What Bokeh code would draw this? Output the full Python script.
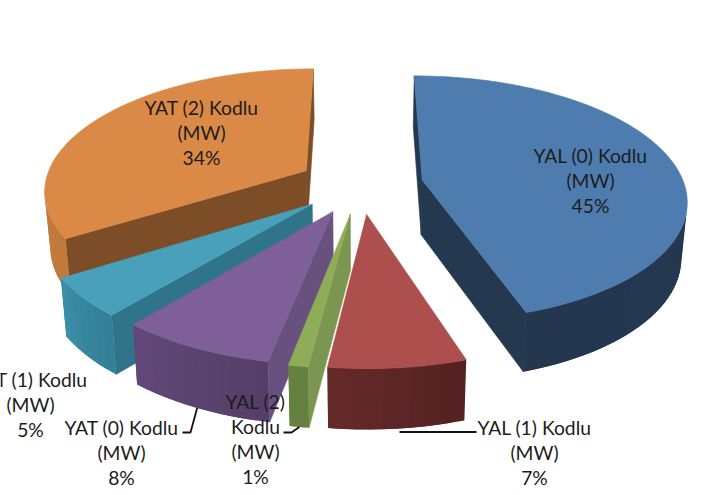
import math
from bokeh.plotting import figure
from bokeh.core.properties import value
from bokeh.embed import file_html
from bokeh.resources import INLINE

# --- data ---
categories = ["YAL (0) Kodlu (MW)", "YAL (1) Kodlu (MW)", "YAL (2) Kodlu (MW)",
              "YAT (0) Kodlu (MW)", "YAT (1) Kodlu (MW)", "YAT (2) Kodlu (MW)"]
shares = [45, 7, 1, 8, 5, 34]

# --- style: top, radial side, arc side (start, end) ---
top_colors = ["#4F7CAF", "#AC4F4D", "#8FAD57", "#7E5F97", "#49A0BA", "#DA8A46"]
radial_colors = ["#24384F", "#5E2726", "#7B9650", "#69517F", "#2F7489", "#7C4D26"]
arc_start = ["#253A57", "#552221", "#65803F", "#553F68", "#337F97", "#C17A3C"]
arc_end = ["#24374F", "#652B2A", "#65803F", "#62497A", "#3D8FAA", "#C9803F"]

# --- layout of the tilted pie ---
CX, CY, RX, RY, K, EXPLODE = 360.0, 184.0, 262.0, 121.0, 0.15, 0.24
DEPTH, CONVERGE = 55.0, 0.982
# draw order, back to front
order = [5, 0, 4, 3, 2, 1]


def mix(c1, c2, t):
    a = [int(c1[i:i + 2], 16) for i in (1, 3, 5)]
    b = [int(c2[i:i + 2], 16) for i in (1, 3, 5)]
    return "#%02x%02x%02x" % tuple(round(p + (q - p) * t) for p, q in zip(a, b))


def project(wx, wy):
    s = 1 / (1 + K * wy)
    top = (CX + RX * wx * s, CY - RY * wy * s)
    bottom = (CX + (top[0] - CX) * CONVERGE, top[1] + DEPTH * math.sqrt(s))
    return top, bottom


def area(poly):
    return sum(poly[i][0] * poly[(i + 1) % len(poly)][1] - poly[(i + 1) % len(poly)][0] * poly[i][1]
               for i in range(len(poly)))


total = sum(shares)
spans, acc = [], 0.0
for v in shares:
    spans.append((acc / total * 2 * math.pi, (acc + v) / total * 2 * math.pi))
    acc += v


def slice_points(i):
    a0, a1 = spans[i]
    mid = (a0 + a1) / 2
    ox, oy = EXPLODE * math.sin(mid), EXPLODE * math.cos(mid)
    n = max(6, int((a1 - a0) / 0.04))
    apex = project(ox, oy)
    rim = [project(ox + math.sin(a0 + (a1 - a0) * j / n), oy + math.cos(a0 + (a1 - a0) * j / n))
           for j in range(n + 1)]
    return apex, rim


xs, ys, colors, line_alphas = [], [], [], []


def add(poly, color, la=1.0):
    xs.append([q[0] for q in poly])
    ys.append([q[1] for q in poly])
    colors.append(color)
    line_alphas.append(la)


for i in order:
    apex, rim = slice_points(i)
    top_poly = [apex[0]] + [r[0] for r in rim]
    sign = area(top_poly)

    def faces(a, b):
        quad = [a[0], b[0], b[1], a[1]]
        return area(quad) * sign < 0, quad

    for a, b in ((apex, rim[0]), (rim[-1], apex)):
        visible, quad = faces(a, b)
        if visible:
            add(quad, radial_colors[i])
    n = len(rim) - 1
    for j in range(n):
        visible, _ = faces(rim[j], rim[j + 1])
        if visible:
            # each band runs under the next so no seam shows between them
            _, quad = faces(rim[j], rim[min(j + 2, n)])
            add(quad, mix(arc_start[i], arc_end[i], j / n), 0.0)
    add(top_poly, top_colors[i])

p = figure(width=727, height=495, x_range=(0, 727), y_range=(495, 0),
           output_backend="svg", toolbar_location=None, min_border=0)
p.axis.visible = False
p.grid.visible = False
p.outline_line_color = None
p.background_fill_color = "white"
p.patches(xs, ys, fill_color=colors, line_color=colors, line_alpha=line_alphas, line_width=0.6)

# --- leader lines from the label to the bottom of the slice's rim ---
def rim_bottom(i, frac=0.5):
    _, rim = slice_points(i)
    return rim[int((len(rim) - 1) * frac)][1]

leaders = [(1, [(476, 431.5), (399, 431.5)], None),
           (3, [(182, 432), (190, 432)], 0.5),
           (2, [(283, 432), (291, 432)], 0.5)]
for i, pts, frac in leaders:
    path = list(pts)
    if frac is not None:
        path.append(rim_bottom(i, frac))
    p.line([q[0] for q in path], [q[1] for q in path], line_color="#111111", line_width=1.8)

# --- labels ---
label_lines = [
    ["YAL (0) Kodlu", "(MW)", "45%"],
    ["YAL (1) Kodlu", "(MW)", "7%"],
    ["YAL (2)", "Kodlu", "(MW)", "1%"],
    ["YAT (0) Kodlu", "(MW)", "8%"],
    ["YAT (1) Kodlu", "(MW)", "5%"],
    ["YAT (2) Kodlu", "(MW)", "34%"],
]
label_anchor = [(590, 155), (534, 427), (255, 401), (121, 427), (30, 379), (201, 107)]
LINE = 25
tx, ty, tt = [], [], []
for lines, (ax, ay) in zip(label_lines, label_anchor):
    for j, t in enumerate(lines):
        tx.append(ax)
        ty.append(ay + j * LINE)
        tt.append(t)
p.text(tx, ty, text=tt, text_font=value("Lato"), text_font_size="19.3px",
       text_align="center", text_baseline="middle", text_color="#1c1c1c")

open("out.html", "w").write(file_html(p, INLINE))
